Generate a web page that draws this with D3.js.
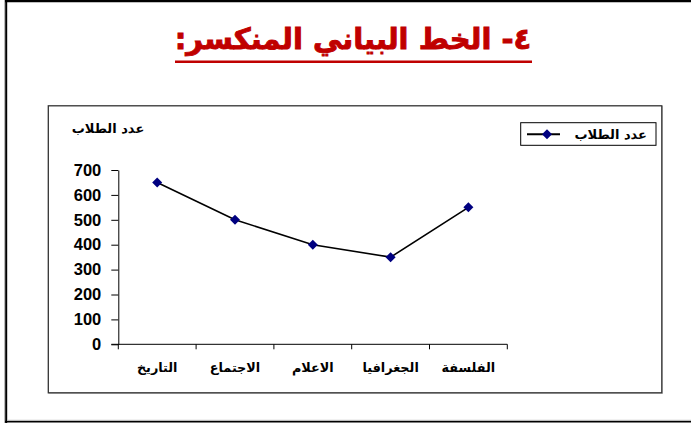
<!DOCTYPE html>
<html>
<head>
<meta charset="utf-8">
<script src="https://cdn.jsdelivr.net/npm/d3@7"></script>
<style>
body { margin: 0; background: #fff; }
svg { display: block; }
</style>
</head>
<body>
<script>
// data
var categories = ["التاريخ", "الاجتماع", "الاعلام", "الجغرافيا", "الفلسفة"];
var students = [650, 500, 400, 350, 550];
var yTicks = [0, 100, 200, 300, 400, 500, 600, 700];
var seriesName = "عدد الطلاب";
var pageTitle = "٤- الخط البياني المنكسر:";

var W = 691, H = 423;
var svg = d3.select("body").append("svg")
    .attr("width", W)
    .attr("height", H);

// page frame (top, left, bottom)
svg.append("line").attr("x1", 4).attr("x2", W).attr("y1", 1).attr("y2", 1)
    .attr("stroke", "#000").attr("stroke-width", 2.5);
svg.append("line").attr("x1", 4.5).attr("x2", 4.5).attr("y1", 0).attr("y2", H)
    .attr("stroke", "#bbb").attr("stroke-width", 1);
svg.append("line").attr("x1", 6.2).attr("x2", 6.2).attr("y1", 0).attr("y2", H)
    .attr("stroke", "#000").attr("stroke-width", 2);
svg.append("line").attr("x1", 5).attr("x2", W).attr("y1", 421.6).attr("y2", 421.6)
    .attr("stroke", "#000").attr("stroke-width", 1.6);
svg.append("line").attr("x1", 7).attr("x2", W).attr("y1", 420.3).attr("y2", 420.3)
    .attr("stroke", "#bbb").attr("stroke-width", 1);

// title
svg.append("text")
    .attr("x", 353)
    .attr("y", 49)
    .attr("text-anchor", "middle")
    .attr("direction", "rtl")
    .style("font-family", "'DejaVu Sans', sans-serif")
    .style("font-weight", "bold")
    .style("font-size", "29px")
    .attr("fill", "#c00000")
    .attr("stroke", "#c00000")
    .attr("stroke-width", 0.9)
    .text(pageTitle);
svg.append("line").attr("x1", 175).attr("x2", 532).attr("y1", 61.8).attr("y2", 61.8)
    .attr("stroke", "#c00000").attr("stroke-width", 2.5);

// chart box
svg.append("rect")
    .attr("x", 49).attr("y", 106.5)
    .attr("width", 613.5).attr("height", 287)
    .attr("fill", "none").attr("stroke", "#c8c8c8").attr("stroke-width", 1);
svg.append("rect")
    .attr("x", 48.3).attr("y", 105.8)
    .attr("width", 613.5).attr("height", 287)
    .attr("fill", "#fff").attr("stroke", "#333").attr("stroke-width", 1.3);

var x = d3.scaleBand()
    .domain(categories)
    .range([118.3, 507.3]);

var y = d3.scaleLinear()
    .domain([0, 700])
    .range([344.3, 170]);

// y axis
var yAxis = d3.axisLeft(y)
    .tickValues(yTicks)
    .tickSize(7)
    .tickSizeOuter(0)
    .tickPadding(10)
    .tickFormat(d3.format("d"));

var gy = svg.append("g")
    .attr("transform", "translate(" + x.range()[0] + ",0)")
    .call(yAxis);
gy.selectAll("text")
    .style("font-family", "'Liberation Sans', Arial, sans-serif")
    .style("font-weight", "bold")
    .style("font-size", "16.5px")
    .attr("fill", "#000");
gy.selectAll("line, path").attr("stroke", "#000").attr("stroke-width", 1);

// x axis: line, ticks between categories, labels centred
var xBase = y(0);
svg.append("line")
    .attr("x1", x.range()[0] - 7).attr("x2", x.range()[1])
    .attr("y1", xBase).attr("y2", xBase)
    .attr("stroke", "#000").attr("stroke-width", 1);

var bounds = categories.map(function(c) { return x(c); }).concat([x.range()[1]]);
svg.selectAll(".xtick")
    .data(bounds)
    .enter().append("line")
    .attr("class", "xtick")
    .attr("x1", function(d) { return d; })
    .attr("x2", function(d) { return d; })
    .attr("y1", xBase)
    .attr("y2", xBase + 5)
    .attr("stroke", "#000").attr("stroke-width", 1);

svg.selectAll(".xlabel")
    .data(categories)
    .enter().append("text")
    .attr("class", "xlabel")
    .attr("x", function(d) { return x(d) + x.bandwidth() / 2; })
    .attr("y", 372)
    .attr("text-anchor", "middle")
    .style("font-family", "'DejaVu Sans', sans-serif")
    .style("font-weight", "bold")
    .style("font-size", "12.8px")
    .attr("fill", "#000")
    .text(function(d) { return d; });

// y axis title
svg.append("text")
    .attr("x", 108)
    .attr("y", 133)
    .attr("text-anchor", "middle")
    .style("font-family", "'DejaVu Sans', sans-serif")
    .style("font-weight", "bold")
    .style("font-size", "13px")
    .attr("fill", "#000")
    .text(seriesName);

// line + markers
var line = d3.line()
    .x(function(d, i) { return x(categories[i]) + x.bandwidth() / 2; })
    .y(function(d) { return y(d); });

svg.append("path")
    .datum(students)
    .attr("d", line)
    .attr("fill", "none")
    .attr("stroke", "#000")
    .attr("stroke-width", 1.6);

var diamond = d3.symbol().type(d3.symbolDiamond2).size(64);

svg.selectAll(".dot")
    .data(students)
    .enter().append("path")
    .attr("class", "dot")
    .attr("d", diamond)
    .attr("transform", function(d, i) {
        return "translate(" + (x(categories[i]) + x.bandwidth() / 2) + "," + y(d) + ")";
    })
    .attr("fill", "#000080");

// legend
var legend = svg.append("g");
legend.append("rect")
    .attr("x", 520.7).attr("y", 122.7)
    .attr("width", 135.3).attr("height", 22.6)
    .attr("fill", "#fff").attr("stroke", "#000").attr("stroke-width", 1);
legend.append("line")
    .attr("x1", 527).attr("x2", 560)
    .attr("y1", 134.3).attr("y2", 134.3)
    .attr("stroke", "#000").attr("stroke-width", 2);
legend.append("path")
    .attr("d", diamond)
    .attr("transform", "translate(547,134.3)")
    .attr("fill", "#000080");
legend.append("text")
    .attr("x", 647)
    .attr("y", 139)
    .attr("text-anchor", "end")
    .style("font-family", "'DejaVu Sans', sans-serif")
    .style("font-weight", "bold")
    .style("font-size", "13px")
    .attr("fill", "#000")
    .text(seriesName);
</script>
</body>
</html>
